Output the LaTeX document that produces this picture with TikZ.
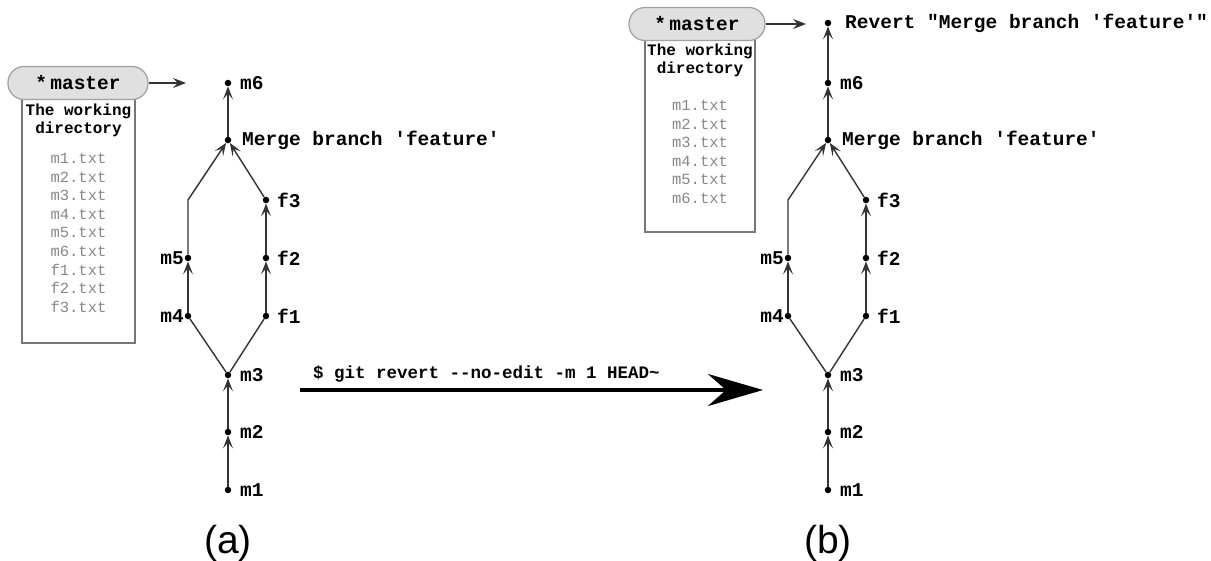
\documentclass[tikz,border=0pt]{standalone}
\usepackage{fontspec}
\newfontfamily\cour{Liberation Mono}
\newfontfamily\sansf{Liberation Sans}
\usetikzlibrary{arrows.meta}
\definecolor{edgec}{HTML}{333333}
\definecolor{boxc}{HTML}{777777}
\definecolor{filec}{HTML}{888888}
\definecolor{tagfill}{HTML}{E0E0E0}
\begin{document}
\begin{tikzpicture}[x=1pt,y=-1pt,
  dot/.style={circle,fill=black,inner sep=0pt,minimum size=6.5pt},
  lbl/.style={font=\cour\bfseries\fontsize{19.5}{19.5}\selectfont,inner sep=0pt},
  edge/.style={draw=edgec,line width=1.4pt},
  arr/.style={edge,-{Stealth[length=13pt,width=10pt,inset=6pt]}},
  tag/.style={draw=boxc!70,fill=tagfill,rounded corners=16pt,line width=1.2pt,minimum height=33pt,font=\cour\bfseries\fontsize{19.5}{19.5}\selectfont},
  wd/.style={draw=boxc,line width=1.3pt,fill=white},
  wdt/.style={font=\cour\bfseries\fontsize{16}{18}\selectfont,align=center,inner sep=0pt},
  files/.style={font=\cour\fontsize{15.5}{18.6}\selectfont,text=filec,align=center,inner sep=0pt,anchor=north},
  ptr/.style={draw=edgec,line width=1.4pt,-{Stealth[length=13pt,width=10pt,inset=5pt]}},
  captext/.style={font=\sansf\fontsize{39}{39}\selectfont,inner sep=0pt}
]
\useasboundingbox (0,0) rectangle (1211,560);

% ---------- (a) ----------
\node[dot] (am1) at (228,490) {};
\node[dot] (am2) at (228,432) {};
\node[dot] (am3) at (228,375) {};
\node[dot] (am4) at (188,316) {};
\node[dot] (af1) at (266,316) {};
\node[dot] (am5) at (188,258) {};
\node[dot] (af2) at (266,258) {};
\node[dot] (af3) at (266,200) {};
\node[dot] (amg) at (228,140) {};
\node[dot] (am6) at (228,83) {};
\coordinate (abend) at (188,200);

\draw[arr] (am1) -- (am2);
\draw[arr] (am2) -- (am3);
\draw[edge] (am3) -- (am4);
\draw[edge] (am3) -- (af1);
\draw[arr] (am4) -- (am5);
\draw[arr] (af1) -- (af2);
\draw[arr] (af2) -- (af3);
\draw[arr] (am5) -- (abend) -- (amg);
\draw[arr] (af3) -- (amg);
\draw[arr] (amg) -- (am6);

\node[lbl,anchor=west] at (240,490) {m1};
\node[lbl,anchor=west] at (240,432) {m2};
\node[lbl,anchor=west] at (240,375) {m3};
\node[lbl,anchor=east] at (184,316) {m4};
\node[lbl,anchor=east] at (184,258) {m5};
\node[lbl,anchor=west] at (277,316) {f1};
\node[lbl,anchor=west] at (277,258) {f2};
\node[lbl,anchor=west] at (277,200) {f3};
\node[lbl,anchor=west] at (242,140) {Merge branch 'feature'};
\node[lbl,anchor=west] at (240,83) {m6};

\draw[wd] (22,99) rectangle (135,343);
\node[wdt,anchor=north] (awd) at (78.5,104) {The working\\directory};
\node[files] (afl) at (78.5,153) {m1.txt\\m2.txt\\m3.txt\\m4.txt\\m5.txt\\m6.txt\\f1.txt\\f2.txt\\f3.txt};
\node[tag,minimum width=140pt] (amaster) at (78,83) {*\,master};
\coordinate (aptr) at (186,83);
\draw[ptr] (amaster) -- (aptr);

\node[captext] (capa) at (228,543) {(a)};

% ---------- big arrow ----------
\coordinate (bigs) at (300,390);
\coordinate (bige) at (763,390);
\draw[line width=3.5pt,-{Stealth[length=55pt,width=32pt,inset=18pt]}] (bigs) -- (bige);
\node[font=\cour\bfseries\fontsize{17.5}{17.5}\selectfont,anchor=base west,inner sep=0pt] (cmd) at (313,378) {\$ git revert --no-edit -m 1 HEAD\char`\~};

% ---------- (b) ----------
\node[dot] (bm1) at (828,490) {};
\node[dot] (bm2) at (828,432) {};
\node[dot] (bm3) at (828,375) {};
\node[dot] (bm4) at (788,316) {};
\node[dot] (bf1) at (866,316) {};
\node[dot] (bm5) at (788,258) {};
\node[dot] (bf2) at (866,258) {};
\node[dot] (bf3) at (866,200) {};
\node[dot] (bmg) at (828,140) {};
\node[dot] (bm6) at (828,83) {};
\node[dot] (brv) at (828,23) {};
\coordinate (bbend) at (788,200);

\draw[arr] (bm1) -- (bm2);
\draw[arr] (bm2) -- (bm3);
\draw[edge] (bm3) -- (bm4);
\draw[edge] (bm3) -- (bf1);
\draw[arr] (bm4) -- (bm5);
\draw[arr] (bf1) -- (bf2);
\draw[arr] (bf2) -- (bf3);
\draw[arr] (bm5) -- (bbend) -- (bmg);
\draw[arr] (bf3) -- (bmg);
\draw[arr] (bmg) -- (bm6);
\draw[arr] (bm6) -- (brv);

\node[lbl,anchor=west] at (840,490) {m1};
\node[lbl,anchor=west] at (840,432) {m2};
\node[lbl,anchor=west] at (840,375) {m3};
\node[lbl,anchor=east] at (784,316) {m4};
\node[lbl,anchor=east] at (784,258) {m5};
\node[lbl,anchor=west] at (877,316) {f1};
\node[lbl,anchor=west] at (877,258) {f2};
\node[lbl,anchor=west] at (877,200) {f3};
\node[lbl,anchor=west] at (842,140) {Merge branch 'feature'};
\node[lbl,anchor=west] at (840,83) {m6};
\node[lbl,anchor=west] at (845,23) {Revert "Merge branch 'feature'"};

\draw[wd] (645,39) rectangle (755,232);
\node[wdt,anchor=north] (bwd) at (700,44) {The working\\directory};
\node[files] (bfl) at (700,100) {m1.txt\\m2.txt\\m3.txt\\m4.txt\\m5.txt\\m6.txt};
\node[tag,minimum width=136pt] (bmaster) at (697,24) {*\,master};
\coordinate (bptr) at (806,24);
\draw[ptr] (bmaster) -- (bptr);

\node[captext] (capb) at (828,543) {(b)};
\end{tikzpicture}
\end{document}
